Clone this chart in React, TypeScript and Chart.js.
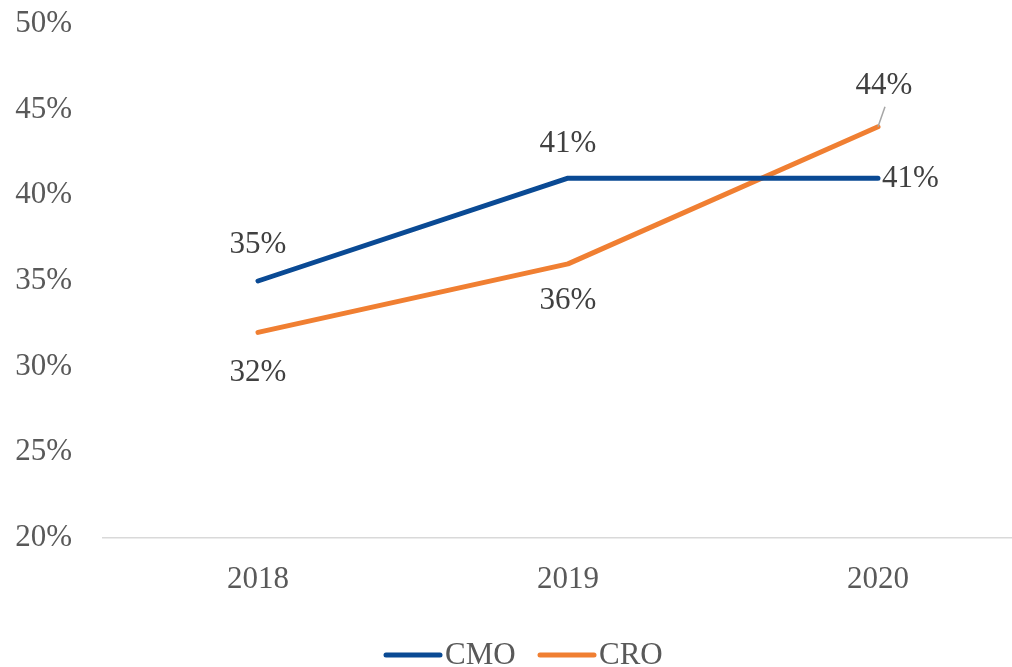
import React, { useEffect, useRef } from "react";
import { Chart, registerables } from "chart.js";

Chart.register(...registerables);

const categories = ["2018", "2019", "2020"];
const cmoValues = [35, 41, 41];
const croValues = [32, 36, 44];
const seriesNames = ["CMO", "CRO"];
const seriesColors = ["#0A4A94", "#F07F32"];
const yTicks = [20, 25, 30, 35, 40, 45, 50];

const FONT = "'Liberation Serif', 'Times New Roman', serif";
const FONT_SIZE = 31;

// label placement per point: [dx, dy, align]
const cmoLabelPos: [number, number, CanvasTextAlign][] = [
  [0, -36, "center"],
  [0, -34, "center"],
  [4, 1, "left"],
];
const croLabelPos: [number, number, CanvasTextAlign][] = [
  [0, 40, "center"],
  [0, 37, "center"],
  [6, -41, "center"],
];

const labelsPlugin = {
  id: "dataLabels",
  afterDatasetsDraw(chart: any) {
    const ctx = chart.ctx;
    ctx.save();
    ctx.font = `${FONT_SIZE}px ${FONT}`;
    ctx.fillStyle = "#404040";
    ctx.textBaseline = "middle";
    const sets = [cmoLabelPos, croLabelPos];
    chart.data.datasets.forEach((ds: any, di: number) => {
      const meta = chart.getDatasetMeta(di);
      meta.data.forEach((pt: any, i: number) => {
        const [dx, dy, align] = sets[di][i];
        if (di === 1 && i === 2) {
          ctx.save();
          ctx.strokeStyle = "#A6A6A6";
          ctx.lineWidth = 1.5;
          ctx.beginPath();
          ctx.moveTo(pt.x, pt.y);
          ctx.lineTo(pt.x + 7, pt.y - 20);
          ctx.stroke();
          ctx.restore();
        }
        ctx.textAlign = align;
        ctx.fillText(`${ds.data[i]}%`, pt.x + dx, pt.y + dy);
      });
    });
    ctx.restore();
  },
};

const legendPlugin = {
  id: "customLegend",
  afterDraw(chart: any) {
    const ctx = chart.ctx;
    ctx.save();
    ctx.font = `${FONT_SIZE}px ${FONT}`;
    ctx.textBaseline = "middle";
    ctx.textAlign = "left";
    const y = 647;
    const starts = [378, 532];
    seriesNames.forEach((name, i) => {
      const x = starts[i];
      ctx.strokeStyle = seriesColors[i];
      ctx.lineWidth = 5;
      ctx.lineCap = "round";
      ctx.beginPath();
      ctx.moveTo(x, y);
      ctx.lineTo(x + 54, y);
      ctx.stroke();
      ctx.fillStyle = "#595959";
      ctx.fillText(name, x + 59, y + 1);
    });
    ctx.restore();
  },
};

export default function App() {
  const ref = useRef<HTMLCanvasElement>(null);
  useEffect(() => {
    if (!ref.current) return;
    const chart = new Chart(ref.current, {
      type: "line",
      data: {
        labels: categories,
        datasets: [
          {
            label: seriesNames[0],
            data: cmoValues,
            borderColor: seriesColors[0],
            backgroundColor: seriesColors[0],
            borderWidth: 5,
            borderCapStyle: "round",
            borderJoinStyle: "round",
            pointRadius: 0,
            tension: 0,
          },
          {
            label: seriesNames[1],
            data: croValues,
            borderColor: seriesColors[1],
            backgroundColor: seriesColors[1],
            borderWidth: 5,
            borderCapStyle: "round",
            borderJoinStyle: "round",
            pointRadius: 0,
            tension: 0,
          },
        ],
      },
      options: {
        responsive: false,
        animation: false,
        layout: { padding: { top: 16, right: 7, bottom: 69, left: 0 } },
        plugins: {
          legend: { display: false },
          tooltip: { enabled: false },
        },
        scales: {
          x: {
            offset: true,
            grid: { display: false, drawTicks: false },
            border: { display: true, color: "#D9D9D9", width: 1.5 },
            ticks: {
              padding: 23,
              color: "#595959",
              font: { family: FONT, size: FONT_SIZE },
            },
            afterFit(scale: any) {
              scale.height = 60;
              scale.paddingLeft = 0;
              scale.paddingRight = 0;
            },
          },
          y: {
            min: 20,
            max: 50,
            afterBuildTicks(scale: any) {
              scale.ticks = yTicks.map((v) => ({ value: v }));
            },
            grid: { display: false, drawTicks: false },
            border: { display: false },
            ticks: {
              padding: 31,
              color: "#595959",
              font: { family: FONT, size: FONT_SIZE },
              callback: (v: any) => `${v}%`,
            },
            afterFit(scale: any) {
              scale.width = 95;
              scale.paddingTop = 0;
              scale.paddingBottom = 0;
            },
          },
        },
      },
      plugins: [labelsPlugin, legendPlugin],
    });
    return () => chart.destroy();
  }, []);
  return (
    <div style={{ position: "fixed", left: 8, top: 8, width: 1004, height: 659, overflow: "hidden" }}>
      <canvas ref={ref} width={1032} height={659} style={{ display: "block" }} />
    </div>
  );
}
